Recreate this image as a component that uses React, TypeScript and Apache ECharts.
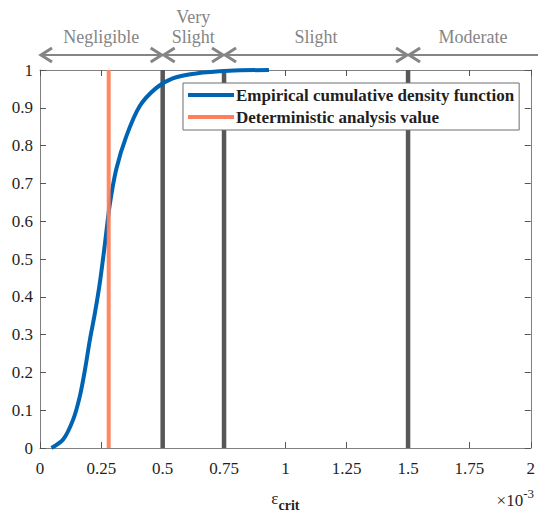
import React, { useEffect, useRef } from "react";
import * as echarts from "echarts";

// Empirical CDF of eps_crit (x in units of 1e-3)
const cdfX = [0.047, 0.095, 0.135, 0.162, 0.183, 0.203, 0.223, 0.243, 0.264, 0.284, 0.311, 0.352, 0.406, 0.473, 0.541, 0.636, 0.771, 0.933];
const cdfY = [0.0, 0.023, 0.075, 0.136, 0.206, 0.285, 0.354, 0.433, 0.537, 0.642, 0.738, 0.825, 0.904, 0.952, 0.978, 0.991, 0.998, 1.0];
const deterministicValue = 0.28;
const thresholds = [0.5, 0.75, 1.5];
const severityLabels = ["Negligible", "Very\nSlight", "Slight", "Moderate"];
const severityBounds = [0, 0.5, 0.75, 1.5];

const SERIF = "'Liberation Serif', 'Times New Roman', serif";
const AXIS_GRAY = "#808080";
const ANNO_GRAY = "#858585";
const TEXT = "#1f1f1f";

export default function App() {
  const ref = useRef<HTMLDivElement>(null);

  useEffect(() => {
    if (!ref.current) return;
    const chart = echarts.init(ref.current, undefined, { renderer: "svg" });

    const thresholdSeries = thresholds.map((t) => ({
      type: "line",
      name: "threshold" + t,
      data: [[t, 0], [t, 1]],
      showSymbol: false,
      symbol: "none",
      lineStyle: { color: "#575757", width: 4.5 },
      z: 2,
    }));

    const tick = { show: true, inside: true, length: 6, lineStyle: { color: "#555", width: 1 } };

    chart.setOption({
      animation: false,
      grid: { left: 40, right: 5, top: 70, bottom: 65, containLabel: false },
      legend: {
        data: ["Empirical cumulative density function", "Deterministic analysis value"],
        orient: "vertical",
        left: 183,
        top: 83,
        icon: "rect",
        itemWidth: 46,
        itemHeight: 4,
        itemGap: 4,
        padding: [3, 5, 4, 5],
        backgroundColor: "#ffffff",
        borderColor: "#6e6e6e",
        borderWidth: 1,
        borderRadius: 0,
        textStyle: { fontFamily: SERIF, fontSize: 17, fontWeight: "bold", color: TEXT, lineHeight: 18, padding: [0, 0, 0, -3] },
      },
      xAxis: [
        {
          type: "value",
          min: 0,
          max: 2,
          interval: 0.25,
          position: "bottom",
          axisLine: { onZero: false, lineStyle: { color: AXIS_GRAY, width: 1 } },
          axisTick: tick,
          axisLabel: { fontFamily: SERIF, fontSize: 17, color: TEXT, margin: 12 },
          splitLine: { show: false },
          name: "{e|ε}{s|crit}",
          nameLocation: "middle",
          nameGap: 37,
          nameTextStyle: {
            rich: {
              e: { fontFamily: SERIF, fontSize: 17, color: TEXT },
              s: { fontFamily: SERIF, fontSize: 14, fontWeight: "bold", color: TEXT, padding: [13, 0, 0, 0] },
            },
          },
        },
        {
          type: "value",
          min: 0,
          max: 2,
          interval: 0.25,
          position: "top",
          axisLine: { onZero: false, lineStyle: { color: AXIS_GRAY, width: 1 } },
          axisTick: tick,
          axisLabel: { show: false },
          splitLine: { show: false },
        },
      ],
      yAxis: [
        {
          type: "value",
          min: 0,
          max: 1,
          interval: 0.1,
          position: "left",
          axisLine: { show: true, onZero: false, lineStyle: { color: AXIS_GRAY, width: 1 } },
          axisTick: tick,
          axisLabel: { fontFamily: SERIF, fontSize: 17, color: TEXT, margin: 7 },
          splitLine: { show: false },
        },
        {
          type: "value",
          min: 0,
          max: 1,
          interval: 0.1,
          position: "right",
          axisLine: { show: true, onZero: false, lineStyle: { color: AXIS_GRAY, width: 1 } },
          axisTick: tick,
          axisLabel: { show: false },
          splitLine: { show: false },
        },
      ],
      series: [
        ...thresholdSeries,
        {
          type: "line",
          name: "Empirical cumulative density function",
          data: cdfX.map((x, i) => [x, cdfY[i]]),
          smooth: 0.3,
          showSymbol: false,
          symbol: "none",
          itemStyle: { color: "#0064B4" },
          lineStyle: { color: "#0064B4", width: 4 },
          z: 3,
        },
        {
          type: "line",
          name: "Deterministic analysis value",
          data: [[deterministicValue, 0], [deterministicValue, 1]],
          showSymbol: false,
          symbol: "none",
          itemStyle: { color: "#FF7F5A" },
          lineStyle: { color: "#FF7F5A", width: 4, opacity: 0.92 },
          z: 4,
        },
      ],
    });

    // Severity annotations above the plot
    const W = chart.getWidth();
    const px = (v: number) => chart.convertToPixel({ xAxisIndex: 0 }, v) as number;
    const bounds = severityBounds.map(px);
    const edges = [...bounds, W];
    const arrowY = 55;
    const hw = 12;
    const hh = 7;
    const graphics: any[] = [
      {
        type: "line",
        shape: { x1: bounds[0], y1: arrowY, x2: W, y2: arrowY },
        style: { stroke: ANNO_GRAY, lineWidth: 2 },
      },
    ];
    bounds.forEach((b, i) => {
      graphics.push({
        type: "polyline",
        shape: { points: [[b + hw, arrowY - hh], [b + 1, arrowY], [b + hw, arrowY + hh]] },
        style: { stroke: ANNO_GRAY, lineWidth: 3, fill: "none" },
      });
      if (i > 0) {
        graphics.push({
          type: "polyline",
          shape: { points: [[b - hw, arrowY - hh], [b - 1, arrowY], [b - hw, arrowY + hh]] },
          style: { stroke: ANNO_GRAY, lineWidth: 3, fill: "none" },
        });
      }
    });
    severityLabels.forEach((lab, i) => {
      const cx = (edges[i] + edges[i + 1]) / 2;
      graphics.push({
        type: "text",
        x: cx,
        y: 47,
        style: {
          text: lab,
          fontFamily: SERIF,
          fontSize: 18,
          fill: ANNO_GRAY,
          align: "center",
          verticalAlign: "bottom",
          lineHeight: 20,
        },
      });
    });
    graphics.push({
      type: "text",
      right: 4,
      top: 487,
      style: {
        text: "{a|×10}{b|-3}",
        rich: {
          a: { fontFamily: SERIF, fontSize: 17, fill: TEXT, padding: [7, 0, 0, 0] },
          b: { fontFamily: SERIF, fontSize: 13, fill: TEXT, padding: [0, 0, 7, 0] },
        },
      },
    });
    chart.setOption({ graphic: graphics });

    return () => chart.dispose();
  }, []);

  return (
    <div
      ref={ref}
      style={{ position: "fixed", left: 0, top: 0, width: 538, height: 517, background: "#fff" }}
    />
  );
}
